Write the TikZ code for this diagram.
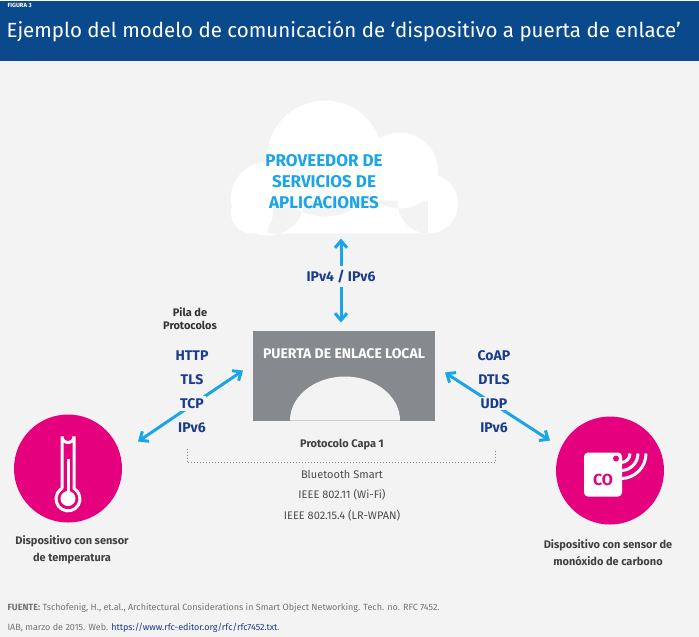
\documentclass[tikz,border=0pt]{standalone}
\usepackage{fontspec}
\setmainfont{Fira Sans}
\usetikzlibrary{positioning}
\definecolor{bandblue}{HTML}{0A4A8C}
\definecolor{skyblue}{HTML}{1AA6E6}
\definecolor{navy}{HTML}{1A3C8C}
\definecolor{magenta}{HTML}{E5007E}
\definecolor{gatewaygrey}{HTML}{86898D}
\definecolor{bggrey}{HTML}{F3F3F3}
\tikzset{stack node/.style={text=navy,font=\fontsize{14}{16}\selectfont\bfseries,fill=bggrey,inner sep=2pt},
	arrow both/.style={skyblue,line width=3pt,<->,>={Straight Barb[length=7pt,width=12pt]}},
	caption node/.style={text=black!75,font=\fontsize{11}{17}\selectfont\bfseries,align=center},
	layer node/.style={text=black!70,font=\fontsize{11}{13}\selectfont},
	device node/.style={circle,fill=magenta,minimum size=108pt,inner sep=0pt},
}
\usetikzlibrary{arrows.meta}

\begin{document}
\begin{tikzpicture}[x=1pt,y=-1pt]
	\fill[bggrey] (0,0) rectangle (699,636);
	\fill[bandblue] (0,0) rectangle (699,60);
	\node[anchor=west,text=white,font=\fontsize{6}{7}\selectfont\bfseries] (fig) at (4,5) {FIGURA 3};
	\node[anchor=west,text=white,font=\fontsize{20.5}{22}\selectfont] (title) at (3,31) {Ejemplo del modelo de comunicación de ‘dispositivo a puerta de enlace’};
	
	% nube
	\fill[white] (268,198) circle (37) (325,158) circle (58) (400,170) circle (38) (428,203) circle (30)
	(268,200) rectangle (428,233) (252,212) circle (21);
	\node[text=skyblue,font=\fontsize{17}{21}\selectfont\bfseries,align=center] (cloud) at (324,181) {PROVEEDOR DE\\SERVICIOS DE\\APLICACIONES};
	
	% puerta de enlace
	\fill[gatewaygrey] (253,330) rectangle (435,420);
	\fill[bggrey] (290,420) arc[start angle=180,end angle=360,x radius=55,y radius=44] -- cycle;
	\node[text=white,font=\fontsize{14}{16}\selectfont\bfseries] (gateway) at (344,353) {PUERTA DE ENLACE LOCAL};
	\coordinate (gwtop) at (341,322);
	\coordinate (cloudbot) at (341,238);
	\draw[arrow both] (cloudbot) -- (gwtop);
	\node[stack node,inner sep=4pt] (ipv) at (341,276) {IPv4 / IPv6};
	
	% dispositivos y flechas
	\node[device node] (temp) at (68,468) {};
	\node[device node] (co) at (610,470) {};
	\coordinate (la) at (243,370);
	\coordinate (lb) at (138,441);
	\coordinate (ra) at (445,372);
	\coordinate (rb) at (550,440);
	\draw[arrow both] (la) -- (lb);
	\draw[arrow both] (ra) -- (rb);
	
	% pilas
	\node[text=black!80,font=\fontsize{11}{13}\selectfont\bfseries,align=center] (pila) at (190,318) {Pila de\\Protocolos};
	\foreach \t [count=\i] in {HTTP,TLS,TCP,IPv6}
		\node[stack node] (l\i) at (192,331+24*\i) {\t};
	\foreach \t [count=\i] in {CoAP,DTLS,UDP,IPv6}
		\node[stack node] (r\i) at (494,331+24*\i) {\t};
	
	% termometro
	\draw[white,line width=3pt] (62,488) -- (62,436) arc[start angle=180,end angle=0,radius=6] -- (74,488)
		arc[start angle=-60,end angle=240,radius=12];
	\draw[white,line width=3pt] (68,458) -- (68,495);
	\fill[white] (68,498) circle (7.5);
	
	% CO
	\fill[white,rounded corners=4pt] (584,452) rectangle (622,496);
	\fill[magenta] (616,458) circle (3);
	\node[text=magenta,font=\fontsize{16}{18}\selectfont\bfseries] (cotext) at (603,479) {CO};
	\foreach \r in {9,17,25}
		\draw[white,line width=3pt] (621,453)++(90:\r) arc[start angle=90,end angle=0,radius=\r];
	
	% capa 1
	\draw[black!50,dotted,line width=1pt] (187,448) -- (187,462) -- (495,462) -- (495,448);
	\node[caption node] (capa) at (342,444) {Protocolo Capa 1};
	\node[layer node] (bt) at (342,474) {Bluetooth Smart};
	\node[layer node] (wifi) at (342,494) {IEEE 802.11 (Wi-Fi)};
	\node[layer node] (lr) at (342,515) {IEEE 802.15.4 (LR-WPAN)};
	
	\node[caption node] (templbl) at (72,549) {Dispositivo con sensor\\de temperatura};
	\node[caption node] (colbl) at (608,552) {Dispositivo con sensor de\\monóxido de carbono};
	
	% fuente
	\node[anchor=west,text=black!55,font=\fontsize{9}{10}\selectfont] (src1) at (4,607) {\textbf{FUENTE:} Tschofenig, H., et.al., Architectural Considerations in Smart Object Networking. Tech. no. RFC 7452.};
	\node[anchor=west,text=black!55,font=\fontsize{9}{10}\selectfont] (src2) at (4,627) {IAB, marzo de 2015. Web. \textcolor{navy}{https://www.rfc-editor.org/rfc/rfc7452.txt}.};
\end{tikzpicture}
\end{document}
